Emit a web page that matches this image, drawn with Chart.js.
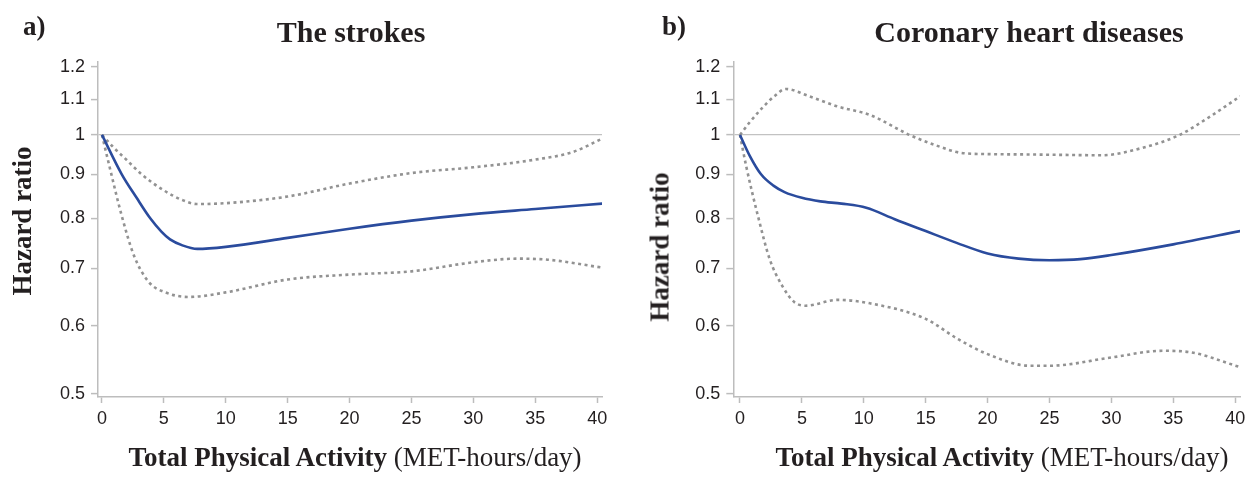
<!DOCTYPE html>
<html>
<head>
<meta charset="utf-8">
<script src="https://cdn.jsdelivr.net/npm/chart.js@4.4.1/dist/chart.umd.min.js"></script>
<style>
  body { margin: 0; background: #fff; }
  #wrap { position: relative; width: 1256px; height: 479px; overflow: hidden; font-family: "Liberation Serif", serif; color: #231f20; }
  canvas { position: absolute; top: 0; }
  .lbl { position: absolute; font-weight: bold; font-size: 27px; line-height: 27px; white-space: nowrap; }
  .ttl { position: absolute; font-weight: bold; font-size: 30px; line-height: 30px; white-space: nowrap; transform: translateX(-50%); }
  .xt { position: absolute; font-size: 27px; line-height: 27px; white-space: nowrap; transform: translateX(-50%); }
  .yt { position: absolute; font-weight: bold; font-size: 27px; line-height: 27px; white-space: nowrap; transform: translate(-50%, -50%) rotate(-90deg); }
</style>
</head>
<body>
<div id="wrap">
  <canvas id="chartA" width="628" height="479" style="left:0"></canvas>
  <canvas id="chartB" width="628" height="479" style="left:628px"></canvas>
  <div class="lbl" style="left:23px;top:13px">a)</div>
  <div class="lbl" style="left:662px;top:13px">b)</div>
  <div class="ttl" style="left:351px;top:17px">The strokes</div>
  <div class="ttl" style="left:1029px;top:17px">Coronary heart diseases</div>
  <div class="yt" style="left:22px;top:221px">Hazard ratio</div>
  <div class="yt" style="left:660px;top:247px">Hazard ratio</div>
  <div class="xt" style="left:355px;top:444px"><b>Total Physical Activity</b> (MET-hours/day)</div>
  <div class="xt" style="left:1002px;top:444px"><b>Total Physical Activity</b> (MET-hours/day)</div>
</div>
<script>
// axis ticks
const xTicks = [0, 5, 10, 15, 20, 25, 30, 35, 40];
const yTicks = [0.5, 0.6, 0.7, 0.8, 0.9, 1, 1.1, 1.2];
const yTickLabels = ['0.5', '0.6', '0.7', '0.8', '0.9', '1', '1.1', '1.2'];

// a) strokes
const strokeHrX = [0, 1.6, 2.8, 3.9, 4.8, 5.5, 6.5, 7.7, 10, 15, 20, 25, 30, 35, 40.4];
const strokeHr = [1.0, 0.9, 0.845, 0.8, 0.772, 0.756, 0.744, 0.737, 0.741, 0.759, 0.778, 0.795, 0.809, 0.82, 0.832];
const strokeUpX = [0, 1, 2, 3.2, 5, 6.5, 7.7, 10, 15, 20, 25, 30, 35, 38, 40.4];
const strokeUp = [1.0, 0.965, 0.935, 0.9, 0.862, 0.84, 0.831, 0.833, 0.848, 0.878, 0.903, 0.917, 0.936, 0.955, 0.99];
const strokeLoX = [0, 0.6, 1.6, 2.6, 3.8, 5, 7, 10, 15, 20, 25, 30, 33.5, 36, 40.4];
const strokeLo = [1.0, 0.92, 0.805, 0.723, 0.674, 0.657, 0.648, 0.656, 0.679, 0.688, 0.694, 0.711, 0.718, 0.716, 0.701];

// b) coronary heart diseases
const chdHrX = [0, 0.8, 1.7, 2.7, 3.6, 5, 6.5, 8.2, 10.2, 12.5, 15, 17.5, 20, 22.5, 25, 27.5, 30, 35, 40.4];
const chdHr = [1.0, 0.945, 0.9, 0.873, 0.858, 0.845, 0.837, 0.832, 0.823, 0.798, 0.773, 0.749, 0.728, 0.718, 0.715, 0.717, 0.725, 0.746, 0.773];
const chdUpX = [0, 0.8, 1.8, 2.8, 3.7, 5.6, 7.9, 10.5, 13.7, 15.7, 17.9, 20, 23.4, 26, 29.2, 32.5, 35.5, 38, 40.4];
const chdUp = [1.0, 1.035, 1.075, 1.11, 1.131, 1.109, 1.079, 1.055, 1.0, 0.974, 0.953, 0.95, 0.949, 0.948, 0.947, 0.966, 1.0, 1.051, 1.109];
const chdLoX = [0, 0.5, 1.45, 2.4, 3.4, 4.4, 5.3, 7.9, 10.5, 15, 17.6, 20, 23.4, 25, 30, 34.1, 36.3, 40.4];
const chdLo = [1.0, 0.92, 0.805, 0.717, 0.668, 0.639, 0.633, 0.643, 0.637, 0.611, 0.579, 0.556, 0.539, 0.539, 0.551, 0.561, 0.559, 0.537];

const BLUE = '#2a4b9d';
const GRAY = '#929292';
const AXIS = '#bdbdbd';
const INK = '#231f20';

function pts(xs, ys) {
  return xs.map((x, i) => ({ x: x, y: ys[i] }));
}

function makeChart(id, plotLeft, plotRight, xMin, hr, up, lo) {
  return new Chart(document.getElementById(id), {
    type: 'line',
    data: {
      datasets: [
        { data: hr, borderColor: BLUE, borderWidth: 2.6 },
        { data: up, borderColor: GRAY, borderWidth: 2.6, borderDash: [3, 3.5] },
        { data: lo, borderColor: GRAY, borderWidth: 2.6, borderDash: [3, 3.5] }
      ]
    },
    options: {
      responsive: false,
      animation: false,
      layout: { padding: { left: 0, right: 628 - plotRight, top: 62, bottom: 0 } },
      elements: {
        point: { radius: 0 },
        line: { cubicInterpolationMode: 'monotone', borderCapStyle: 'butt' }
      },
      plugins: { legend: { display: false }, tooltip: { enabled: false } },
      scales: {
        x: {
          type: 'linear',
          min: xMin,
          max: 40.39,
          afterBuildTicks: s => { s.ticks = xTicks.map(v => ({ value: v })); },
          afterFit: s => { s.height = 479 - 397; },
          ticks: { autoSkip: false, maxRotation: 0, padding: 5, color: INK, font: { family: 'Liberation Sans', size: 18 } },
          grid: { drawOnChartArea: false, tickLength: 6, tickColor: AXIS, tickWidth: 1.5 },
          border: { color: AXIS, width: 1.5 }
        },
        y: {
          type: 'logarithmic',
          min: 0.4957,
          max: 1.2157,
          afterBuildTicks: s => { s.ticks = yTicks.map(v => ({ value: v })); },
          afterFit: s => { s.width = plotLeft; },
          ticks: {
            padding: 6,
            color: INK,
            font: { family: 'Liberation Sans', size: 18 },
            callback: (v, i) => yTickLabels[i]
          },
          grid: {
            color: ctx => (ctx.tick && ctx.tick.value === 1) ? '#c2c2c2' : 'rgba(0,0,0,0)',
            lineWidth: 1.2,
            tickLength: 7,
            tickColor: AXIS,
            tickWidth: 1.5
          },
          border: { color: AXIS, width: 1.5 }
        }
      }
    }
  });
}

makeChart('chartA', 98, 602, -0.32,
  pts(strokeHrX, strokeHr), pts(strokeUpX, strokeUp), pts(strokeLoX, strokeLo));
makeChart('chartB', 105.3, 612, -0.54,
  pts(chdHrX, chdHr), pts(chdUpX, chdUp), pts(chdLoX, chdLo));
</script>
</body>
</html>
